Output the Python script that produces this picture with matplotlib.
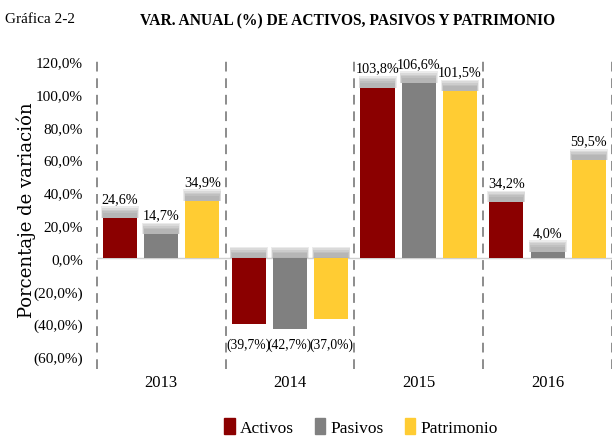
import numpy as np
import matplotlib
matplotlib.use("Agg")
import matplotlib.pyplot as plt
from matplotlib.patches import Patch

plt.rcParams['font.family'] = ['Liberation Serif', 'DejaVu Serif']

# datos
years = ['2013', '2014', '2015', '2016']
series = ['Activos', 'Pasivos', 'Patrimonio']
activos = [24.6, -39.7, 103.8, 34.2]
pasivos = [14.7, -42.7, 106.6, 4.0]
patrimonio = [34.9, -37.0, 101.5, 59.5]
colors = ['#8b0000', '#808080', '#ffcc33']
yticks = [-60, -40, -20, 0, 20, 40, 60, 80, 100, 120]


def fmt(v):
    s = f"{abs(v):.1f}".replace('.', ',') + '%'
    return f"({s})" if v < 0 else s


fig = plt.figure(figsize=(6.12, 4.39), dpi=100)
ax = fig.add_axes([0.158, 0.1845, 0.842, 0.6745])

x = np.arange(len(years))
width = 0.265
step = 0.32

for i, (vals, col) in enumerate(zip([activos, pasivos, patrimonio], colors)):
    pos = x + (i - 1) * step
    # sombra difusa sobre cada barra
    base = [max(v, 0) for v in vals]
    for h, dw in [(7, 0.03), (6, 0.02), (5, 0.01), (4, 0.005), (3, 0.0)]:
        ax.bar(pos, [h] * len(vals), width=width + dw, bottom=base,
               color='#8a8a8a', alpha=0.17, zorder=1, linewidth=0)
    ax.bar(pos, vals, width=width, color=col, zorder=2, linewidth=0)
    for p, v in zip(pos, vals):
        if v >= 0:
            ax.annotate(fmt(v), (p, v), xytext=(0, 14), textcoords='offset points',
                        ha='center', va='center', fontsize=10.2)
        else:
            ax.text(p, -52.5, fmt(v), ha='center', va='center', fontsize=9.8)

ax.axhline(0, color='#d0d0d0', lw=1, zorder=0.5)

# separadores
for b in np.arange(-0.5, len(years), 1.0):
    ax.axvline(b, ymin=-0.04, ymax=1.01, color='#8c8c8c', lw=1.4,
               ls=(0, (5, 3.5)), clip_on=False, zorder=0)

ax.set_xlim(-0.5, len(years) - 0.5)
ax.set_ylim(-60, 120)
ax.set_yticks(yticks)
ax.set_yticklabels([fmt(v) for v in yticks], fontsize=11)
ax.set_xticks(x)
ax.set_xticklabels(years, fontsize=12)
ax.tick_params(length=0)
ax.tick_params(axis='x', pad=12)
ax.tick_params(axis='y', pad=10)
for s in ax.spines.values():
    s.set_visible(False)

ax.set_ylabel('Porcentaje de variación', fontsize=13, family='DejaVu Serif')
ax.yaxis.set_label_coords(-0.118, 0.5)

fig.text(0.008, 0.955, 'Gráfica 2-2', fontsize=11, va='center')
fig.text(0.568, 0.952, 'VAR. ANUAL (%) DE ACTIVOS, PASIVOS Y PATRIMONIO',
         fontsize=11.2, fontweight='bold', ha='center', va='center')

handles = [Patch(color=c, label=s) for c, s in zip(colors, series)]
fig.legend(handles=handles, loc='center', bbox_to_anchor=(0.59, 0.025),
           ncol=3, frameon=False, fontsize=12.5, handlelength=0.6,
           handleheight=1.0, handletextpad=0.3, columnspacing=1.2)

fig.savefig('out.png', dpi=100)
